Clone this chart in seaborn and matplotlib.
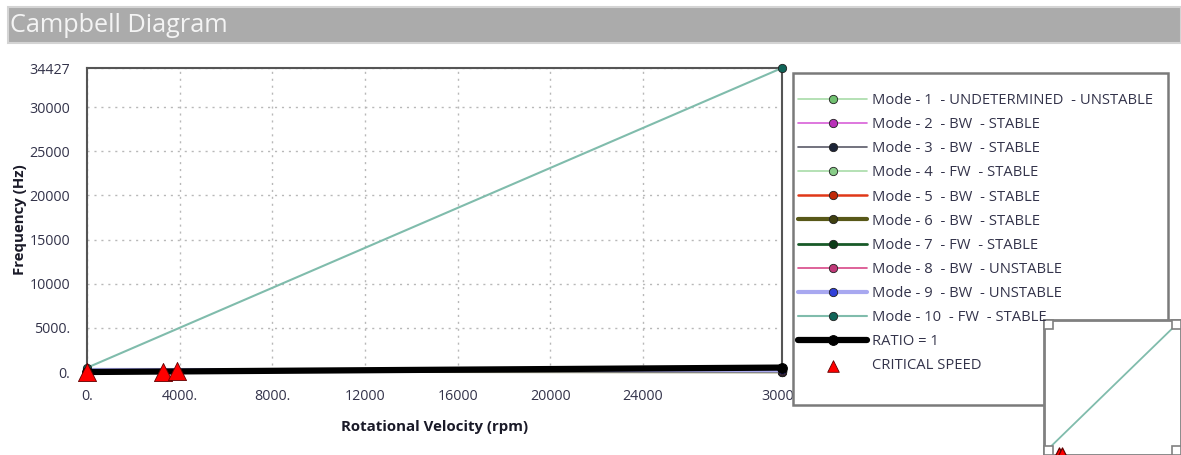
import numpy as np
import pandas as pd
import matplotlib
matplotlib.use("Agg")
import matplotlib.pyplot as plt
from matplotlib.patches import Rectangle
import seaborn as sns

# rotational velocity (rpm) at the two analysis end points
rpm = [0, 30000]

# mode frequencies (Hz)
mode_labels = [
    'Mode - 1  - UNDETERMINED  - UNSTABLE',
    'Mode - 2  - BW  - STABLE',
    'Mode - 3  - BW  - STABLE',
    'Mode - 4  - FW  - STABLE',
    'Mode - 5  - BW  - STABLE',
    'Mode - 6  - BW  - STABLE',
    'Mode - 7  - FW  - STABLE',
    'Mode - 8  - BW  - UNSTABLE',
    'Mode - 9  - BW  - UNSTABLE',
    'Mode - 10  - FW  - STABLE',
]
mode1 = [0, 0]
mode2 = [55, 0]
mode3 = [65, 40]
mode4 = [66, 120]
mode5 = [120, 60]
mode6 = [150, 90]
mode7 = [160, 260]
mode8 = [210, 140]
mode9 = [230, 170]
mode10 = [480, 34427]
ratio1 = [0, 500]

# critical speeds (rpm, Hz)
crit_rpm = [0, 3300, 3900]
crit_hz = [0, 55, 65]

xticks = [0, 4000, 8000, 12000, 16000, 20000, 24000, 30000]
xticklabels = ['0.', '4000.', '8000.', '12000', '16000', '20000', '24000', '30000']
yticks = [0, 5000, 10000, 15000, 20000, 25000, 30000, 34427]
yticklabels = ['0.', '5000.', '10000', '15000', '20000', '25000', '30000', '34427']

modes = [mode1, mode2, mode3, mode4, mode5, mode6, mode7, mode8, mode9, mode10]
line_colors = ['#a8dca8', '#d860d8', '#5a5a68', '#a8dca8', '#e03818', '#585818',
               '#185a28', '#d84888', '#a8a8f0', '#80bcac']
marker_colors = ['#70c070', '#b830b8', '#1c2438', '#88cc88', '#c02808', '#404010',
                 '#0c3c18', '#c03878', '#3040d8', '#106458']
line_widths = [1.2, 1.2, 1.2, 1.2, 1.8, 3.0, 2.0, 1.2, 3.0, 1.5]

sns.set_style('white')
plt.rcParams['font.family'] = ['Open Sans', 'DejaVu Sans']

fig = plt.figure(figsize=(11.81, 4.55), dpi=100)
ax = fig.add_axes([87/1181, 1-372/455, (782-87)/1181, (372-68)/455])

for vals, lab, lc, mc, lw in zip(modes, mode_labels, line_colors, marker_colors, line_widths):
    sns.lineplot(x=rpm, y=vals, ax=ax, color=lc, lw=lw, marker='o', markersize=6,
                 markerfacecolor=mc, markeredgecolor='#202020', markeredgewidth=0.6,
                 label=lab, clip_on=False, zorder=3)
sns.lineplot(x=rpm, y=ratio1, ax=ax, color='black', lw=4.5, marker='o', markersize=7,
             markerfacecolor='black', markeredgecolor='black', label='RATIO = 1',
             clip_on=False, zorder=4)
sns.scatterplot(x=crit_rpm, y=crit_hz, ax=ax, marker='^', s=170, color='#ff0000',
                edgecolor='#600000', linewidth=0.6, label='CRITICAL SPEED',
                clip_on=False, zorder=5)

ax.set_xlim(0, 30000)
ax.set_ylim(0, 34427)
ax.set_xticks(xticks)
ax.set_xticklabels(xticklabels)
ax.set_yticks(yticks)
ax.set_yticklabels(yticklabels)
ax.tick_params(axis='both', which='both', direction='out', length=9, width=1,
               color='#a0a0a0', labelsize=10.3, labelcolor='#33334a', pad=3)
ax.grid(True, linestyle=(0, (1.5, 3.5)), color='#b8b8b8', lw=1.0)
for s in ['left', 'top', 'right']:
    ax.spines[s].set_color('#555555')
    ax.spines[s].set_linewidth(1.5)
ax.spines['bottom'].set_visible(False)
ax.set_xlabel('Rotational Velocity (rpm)', fontsize=10.8, fontweight='bold',
              color='#1a1a28', labelpad=12)
ax.set_ylabel('Frequency (Hz)', fontsize=10.8, fontweight='bold', color='#1a1a28',
              labelpad=2)

h, l = ax.get_legend_handles_labels()
ax.legend_.remove()

# legend frame
fig.patches.append(Rectangle((793/1181, 1-405/455), (1168-793)/1181, (405-73)/455,
                             transform=fig.transFigure, facecolor='white',
                             edgecolor='#7a7a7a', lw=1.8, zorder=1))
leg = fig.legend(h, l, loc='upper left', bbox_to_anchor=(798/1181, 1-93/455),
                 frameon=False, fontsize=10.6, handlelength=4.7, handletextpad=0.35,
                 labelspacing=0.62, numpoints=1, scatterpoints=1, borderpad=0,
                 borderaxespad=0)
leg.legend_handles[-1].set_sizes([70])
for t in leg.get_texts():
    t.set_color('#33334a')

# title bar
fig.patches.append(Rectangle((8/1181, 1-43/455), 1-8/1181, 36/455,
                             transform=fig.transFigure, facecolor='#ababab',
                             edgecolor='#d4d4d4', lw=1.5, zorder=1))
fig.text(10/1181, 1-25/455, 'Campbell Diagram', fontsize=18.2, color='#f4f4f4',
         va='center', ha='left', zorder=2)

# overview thumbnail
ins = fig.add_axes([1044/1181, 0, 137/1181, 135/455], zorder=5)
sns.lineplot(x=rpm, y=mode10, ax=ins, color=line_colors[9], lw=1.3)
sns.scatterplot(x=crit_rpm, y=crit_hz, ax=ins, marker='^', s=120, color='#ff0000',
                edgecolor='#600000', clip_on=True, zorder=5)
ins.set_xlim(0, 30000)
ins.set_ylim(0, 34427)
ins.set_xticks([])
ins.set_yticks([])
ins.set_xlabel('')
ins.set_ylabel('')
for s in ins.spines.values():
    s.set_color('#808080')
    s.set_linewidth(2)
sq = 0.065
for cx, cy in [(0, 0), (1 - sq, 0), (0, 1 - sq * 137 / 135), (1 - sq, 1 - sq * 137 / 135)]:
    ins.add_patch(Rectangle((cx, cy), sq, sq * 137 / 135, transform=ins.transAxes,
                            facecolor='white', edgecolor='#808080', lw=1.2,
                            zorder=6, clip_on=False))

fig.savefig('out.png', dpi=100, facecolor='white')
